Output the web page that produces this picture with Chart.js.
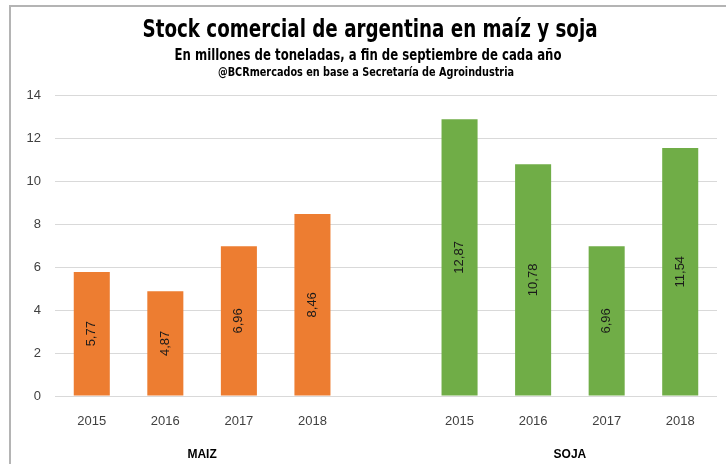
<!DOCTYPE html>
<html>
<head>
<meta charset="utf-8">
<script src="https://cdn.jsdelivr.net/npm/chart.js@4"></script>
<style>
  html, body { margin: 0; padding: 0; background: #fff; }
  .wrap { position: relative; width: 726px; height: 464px; }
  .frame { position: absolute; left: 9px; top: 5px; right: 0; bottom: 0;
           border-top: 2px solid #b4b4b4; border-left: 2px solid #b4b4b4; pointer-events: none; }
</style>
</head>
<body>
<div class="wrap">
  <canvas id="chart" width="726" height="464"></canvas>
  <div class="frame"></div>
</div>
<script>
// data
const years = ["2015", "2016", "2017", "2018"];
const maiz = [5.77, 4.87, 6.96, 8.46];
const soja = [12.87, 10.78, 6.96, 11.54];
const groups = ["MAIZ", "SOJA"];
const yTicks = [0, 2, 4, 6, 8, 10, 12, 14];

const titleLines = [
    "Stock comercial de argentina en maíz y soja",
    "En millones de toneladas, a fin de septiembre de cada año",
    "@BCRmercados en base a Secretaría de Agroindustria",
];

const ORANGE = "#ED7D31";
const GREEN = "#70AD47";

// one empty slot between the two groups
const labels = [...years, "", ...years];
const values = [...maiz, null, ...soja];
const colors = [...maiz.map(() => ORANGE), "rgba(0,0,0,0)", ...soja.map(() => GREEN)];

// condensed look: squeeze each header line to the width seen in the picture
function squeezedText(ctx, text, cx, cy, font, width) {
    ctx.font = font;
    const w = ctx.measureText(text).width;
    ctx.save();
    ctx.translate(cx, cy);
    ctx.scale(Math.min(1, width / w), 1);
    ctx.fillText(text, 0, 0);
    ctx.restore();
}

const headerPlugin = {
    id: "header",
    afterDraw(chart) {
        const ctx = chart.ctx;
        ctx.save();
        ctx.fillStyle = "#000";
        ctx.textAlign = "center";
        ctx.textBaseline = "middle";
        const fam = "'DejaVu Sans Condensed', 'Liberation Sans', sans-serif";
        squeezedText(ctx, titleLines[0], 370, 30, "bold 25px " + fam, 455);
        squeezedText(ctx, titleLines[1], 368, 56, "bold 15px " + fam, 387);
        squeezedText(ctx, titleLines[2], 366, 73, "bold 12px " + fam, 296);
        ctx.restore();
    }
};

const valueLabelPlugin = {
    id: "valueLabels",
    afterDatasetsDraw(chart) {
        const ctx = chart.ctx;
        const meta = chart.getDatasetMeta(0);
        ctx.save();
        ctx.fillStyle = "#1a1a1a";
        ctx.font = "13px 'Liberation Sans', sans-serif";
        ctx.textAlign = "center";
        ctx.textBaseline = "middle";
        meta.data.forEach((bar, i) => {
            const v = values[i];
            if (v === null) return;
            const y = (bar.y + bar.base) / 2;
            ctx.save();
            ctx.translate(bar.x, y);
            ctx.rotate(-Math.PI / 2);
            ctx.fillText(v.toFixed(2).replace(".", ","), 0, 0);
            ctx.restore();
        });
        ctx.restore();
    }
};

const groupLabelPlugin = {
    id: "groupLabels",
    afterDraw(chart) {
        const ctx = chart.ctx;
        const x = chart.scales.x;
        const n = years.length;
        ctx.save();
        ctx.fillStyle = "#000";
        ctx.font = "bold 12px 'Liberation Sans', sans-serif";
        ctx.textAlign = "center";
        ctx.textBaseline = "middle";
        groups.forEach((g, gi) => {
            const start = gi * (n + 1);
            const mid = (x.getPixelForValue(start) + x.getPixelForValue(start + n - 1)) / 2;
            ctx.fillText(g, mid, 455);
        });
        ctx.restore();
    }
};

new Chart(document.getElementById("chart"), {
    type: "bar",
    data: {
        labels: labels,
        datasets: [{
            data: values,
            backgroundColor: colors,
            borderWidth: 0,
            categoryPercentage: 1,
            barPercentage: 0.49,
        }]
    },
    options: {
        responsive: false,
        animation: false,
        layout: { padding: { top: 95, left: 10, right: 9, bottom: 0 } },
        plugins: { legend: { display: false }, tooltip: { enabled: false } },
        scales: {
            x: {
                grid: { display: false },
                border: { display: false },
                ticks: { color: "#404040", font: { size: 13, family: "'Liberation Sans', sans-serif" }, padding: 10, maxRotation: 0 },
                afterFit: s => { s.height = 68; },
            },
            y: {
                min: 0,
                max: 14,
                afterBuildTicks: s => { s.ticks = yTicks.map(v => ({ value: v })); },
                grid: { color: "#d9d9d9", drawTicks: false },
                border: { display: false },
                ticks: { color: "#404040", font: { size: 13, family: "'Liberation Sans', sans-serif" }, padding: 14 },
                afterFit: s => { s.width = 45; },
            }
        }
    },
    plugins: [headerPlugin, valueLabelPlugin, groupLabelPlugin]
});
</script>
</body>
</html>
